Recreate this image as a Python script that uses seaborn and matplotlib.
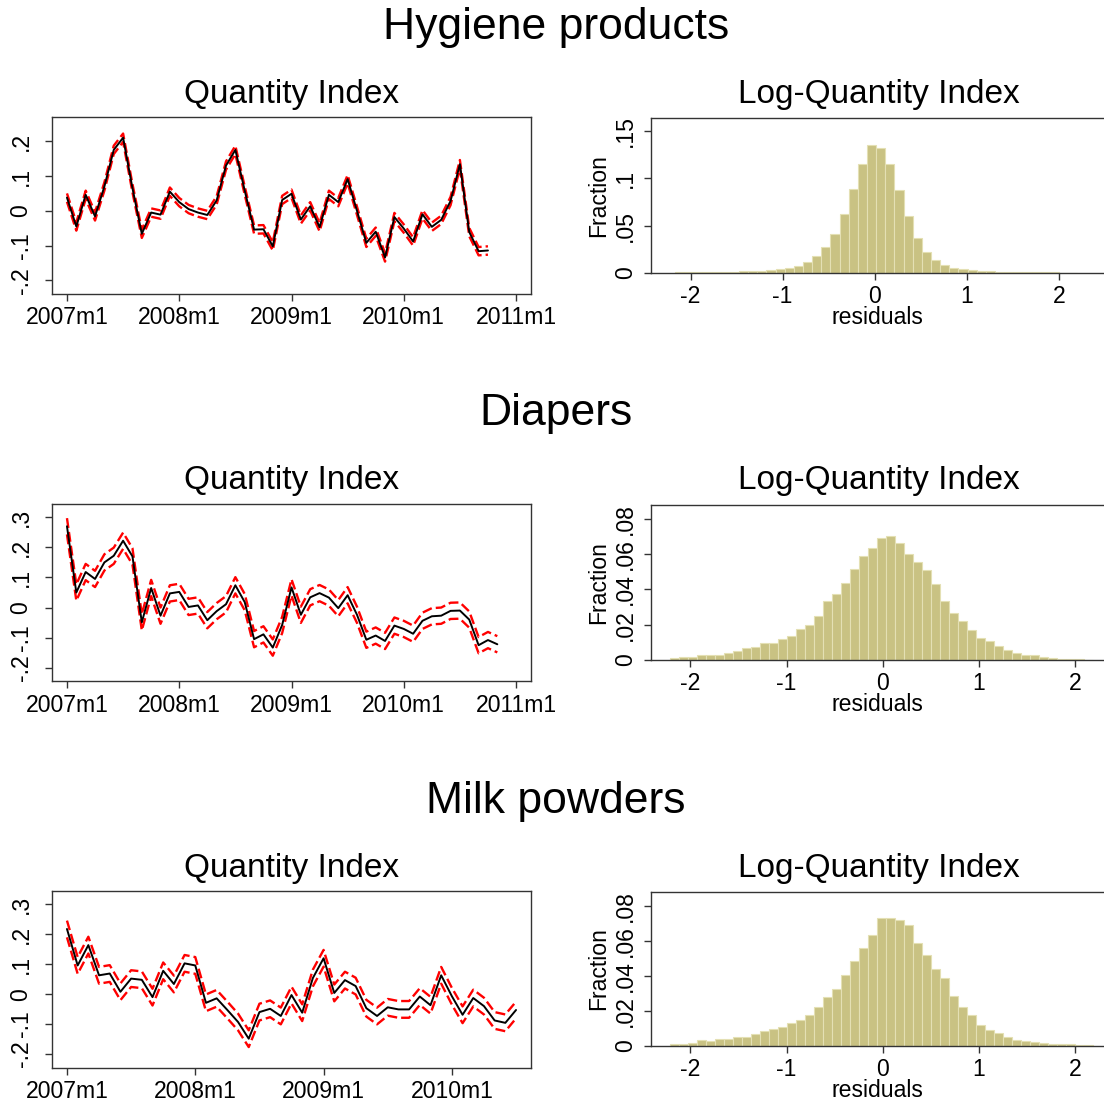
import numpy as np
import pandas as pd
import matplotlib
matplotlib.use("Agg")
import matplotlib.pyplot as plt
import seaborn as sns

# ---------------- data ----------------
PANELS = ["Hygiene products", "Diapers", "Milk powders"]
LINE_TITLE = "Quantity Index"
HIST_TITLE = "Log-Quantity Index"
MONTH_TICK_POS = [0, 12, 24, 36, 48]
MONTH_TICK_LABELS = ["2007m1", "2008m1", "2009m1", "2010m1", "2011m1"]

# quantity index (monthly from 2007m1) and half-width of red band
HYG_Q = [0.038, -0.045, 0.046, -0.016, 0.070, 0.175, 0.210, 0.065, -0.066, -0.005,
         -0.011, 0.055, 0.025, 0.005, -0.005, -0.012, 0.030, 0.130, 0.175, 0.058,
         -0.054, -0.053, -0.102, 0.031, 0.049, -0.025, 0.013, -0.047, 0.046, 0.025,
         0.091, 0.000, -0.092, -0.060, -0.134, -0.018, -0.051, -0.088, -0.010, -0.046,
         -0.026, 0.028, 0.134, -0.061, -0.116, -0.114]
HYG_CI = 0.012

DIA_Q = [0.270, 0.050, 0.118, 0.095, 0.150, 0.172, 0.222, 0.170, -0.049, 0.065,
         -0.027, 0.047, 0.052, 0.002, 0.007, -0.042, -0.012, 0.011, 0.074, 0.018,
         -0.105, -0.089, -0.133, -0.058, 0.067, -0.024, 0.034, 0.048, 0.033, -0.002,
         0.041, -0.024, -0.107, -0.093, -0.111, -0.060, -0.071, -0.087, -0.044, -0.029,
         -0.027, -0.011, -0.010, -0.040, -0.125, -0.108, -0.122]
DIA_CI = 0.027

MILK_Q = [0.218, 0.096, 0.164, 0.063, 0.069, 0.008, 0.052, 0.048, -0.010, 0.078,
          0.034, 0.103, 0.096, -0.029, -0.014, -0.053, -0.093, -0.149, -0.060, -0.049,
          -0.073, -0.003, -0.062, 0.054, 0.120, 0.004, 0.047, 0.027, -0.047, -0.073,
          -0.044, -0.051, -0.051, -0.008, -0.037, 0.063, -0.007, -0.069, -0.013, -0.040,
          -0.088, -0.096, -0.053]
MILK_CI = 0.028

# residual histograms: fraction per bin, first bin edge, bin width
HYG_FRAC = [0.0005, 0.0005, 0.0006, 0.0007, 0.0008, 0.0009, 0.0011, 0.0013, 0.0016, 0.0021,
            0.0029, 0.0042, 0.0054, 0.0072, 0.0110, 0.0176, 0.0275, 0.0408, 0.0623, 0.0887,
            0.1155, 0.1352, 0.1323, 0.1150, 0.0873, 0.0598, 0.0363, 0.0222, 0.0130, 0.0081,
            0.0049, 0.0035, 0.0025, 0.0018, 0.0013, 0.0010, 0.0008, 0.0006, 0.0005, 0.0004,
            0.0003, 0.0003, 0.0002, 0.0002]
HYG_BIN0, HYG_BINW = -2.17, 0.0993

DIA_FRAC = [0.0009, 0.0015, 0.0017, 0.0027, 0.0027, 0.0028, 0.0042, 0.0051, 0.0066, 0.0076,
            0.0098, 0.0098, 0.0116, 0.0138, 0.0178, 0.0200, 0.0248, 0.0331, 0.0371, 0.0436,
            0.0517, 0.0587, 0.0633, 0.0693, 0.0701, 0.0663, 0.0598, 0.0555, 0.0511, 0.0430,
            0.0331, 0.0267, 0.0222, 0.0170, 0.0127, 0.0106, 0.0081, 0.0057, 0.0040, 0.0030,
            0.0028, 0.0017, 0.0009, 0.0008, 0.0006, 0.0004, 0.0002]
DIA_BIN0, DIA_BINW = -2.21, 0.0935

MILK_FRAC = [0.0013, 0.0013, 0.0019, 0.0032, 0.0028, 0.0042, 0.0040, 0.0053, 0.0053, 0.0066,
             0.0087, 0.0097, 0.0110, 0.0133, 0.0148, 0.0178, 0.0222, 0.0281, 0.0326, 0.0404,
             0.0488, 0.0560, 0.0634, 0.0729, 0.0729, 0.0721, 0.0691, 0.0588, 0.0518, 0.0440,
             0.0387, 0.0287, 0.0222, 0.0176, 0.0121, 0.0093, 0.0072, 0.0051, 0.0036, 0.0027,
             0.0021, 0.0016, 0.0013, 0.0011, 0.0009, 0.0007, 0.0005]
MILK_BIN0, MILK_BINW = -2.21, 0.0935

LINE_YTICKS = [[-0.2, -0.1, 0, 0.1, 0.2],
               [-0.2, -0.1, 0, 0.1, 0.2, 0.3],
               [-0.2, -0.1, 0, 0.1, 0.2, 0.3]]
HIST_YTICKS = [[0, 0.05, 0.1, 0.15],
               [0, 0.02, 0.04, 0.06, 0.08],
               [0, 0.02, 0.04, 0.06, 0.08]]
HIST_XTICKS = [-2, -1, 0, 1, 2]

# ---------------- style ----------------
sns.set_theme(style="white", rc={
    "text.color": "black", "axes.labelcolor": "black",
    "xtick.color": "black", "ytick.color": "black",
    "axes.edgecolor": "#333333", "axes.linewidth": 1.0,
})
plt.rcParams["font.family"] = ["Liberation Sans", "DejaVu Sans"]

W, H = 1104, 1103
fig = plt.figure(figsize=(W / 100, H / 100), dpi=100)
fig.patch.set_facecolor("white")

TICK_FS = 16.6
TITLE_FS = 24
SUP_FS = 32
BAR_COLOR = "#c9c283"
BAR_EDGE = "#e4e0b4"


def rect(l, t, r, b):
    return [l / W, 1 - b / H, (r - l) / W, (b - t) / H]


def fmt(v):
    if v == 0:
        return "0"
    s = f"{v:g}"
    return s.replace("0.", ".")


series = [(HYG_Q, HYG_CI), (DIA_Q, DIA_CI), (MILK_Q, MILK_CI)]
hists = [(HYG_FRAC, HYG_BIN0, HYG_BINW), (DIA_FRAC, DIA_BIN0, DIA_BINW),
         (MILK_FRAC, MILK_BIN0, MILK_BINW)]
row_off = [0, 387, 774]
line_xlim = [(-1.6, 49.6), (-1.6, 49.6), (-1.4, 43.4)]
line_ylim = [(-0.239, 0.2695), (-0.244, 0.344), (-0.247, 0.345)]
hist_xlim = [(-2.43, 2.49), (-2.41, 2.30), (-2.41, 2.30)]
hist_ylim = [(0, 0.164), (0, 0.0877), (0, 0.088)]
hist_bottom = [272.7, 660, 1046]

for r in range(3):
    off = row_off[r]
    fig.text(556 / W, 1 - (27 + off) / H, PANELS[r], ha="center", va="center",
             fontsize=SUP_FS, color="black")
    fig.text(291.5 / W, 1 - (94 + off) / H, LINE_TITLE, ha="center", va="center",
             fontsize=TITLE_FS, color="black")
    fig.text(879 / W, 1 - (94 + off) / H, HIST_TITLE, ha="center", va="center",
             fontsize=TITLE_FS, color="black")

    # ---- line panel ----
    q, ci = series[r]
    q = np.asarray(q)
    df = pd.DataFrame({"month": np.arange(len(q)), "q": q,
                       "hi": q + ci, "lo": q - ci})
    ax = fig.add_axes(rect(52, 117 + off, 531, 294 + off))
    for col in ["hi", "lo"]:
        sns.lineplot(data=df, x="month", y=col, ax=ax, color="#ff0000",
                     linewidth=1.7, linestyle=(0, (4.2, 1.7)), estimator=None)
    sns.lineplot(data=df, x="month", y="q", ax=ax, color="black", linewidth=1.4,
                 estimator=None)
    ax.set_xlim(*line_xlim[r])
    ax.set_ylim(*line_ylim[r])
    xt = [p for p in MONTH_TICK_POS if p <= line_xlim[r][1]]
    ax.set_xticks(xt)
    ax.set_xticklabels(MONTH_TICK_LABELS[:len(xt)])
    ax.set_yticks(LINE_YTICKS[r])
    ax.set_yticklabels([fmt(v) for v in LINE_YTICKS[r]], rotation=90, va="center")
    ax.set_xlabel("")
    ax.set_ylabel("")
    ax.tick_params(axis="both", direction="out", length=5, width=1.0,
                   color="#333333", labelsize=TICK_FS, bottom=True, left=True,
                   labelcolor="black")
    ax.tick_params(axis="y", pad=9)
    ax.tick_params(axis="x", pad=4)
    for s in ax.spines.values():
        s.set_visible(True)

    # ---- histogram panel ----
    frac, b0, bw = hists[r]
    n = len(frac)
    centers = b0 + bw * (np.arange(n) + 0.5)
    hd = pd.DataFrame({"resid": centers, "frac": np.asarray(frac, dtype=float)})
    hb = hist_bottom[r]
    ax2 = fig.add_axes(rect(651, 118 + off, W, hb))
    sns.histplot(data=hd, x="resid", weights="frac", bins=n,
                 binrange=(b0, b0 + bw * n), stat="count",
                 ax=ax2, color=BAR_COLOR, edgecolor=BAR_EDGE, linewidth=0.8,
                 alpha=1.0)
    ax2.set_xlim(*hist_xlim[r])
    ax2.set_ylim(*hist_ylim[r])
    ax2.set_xticks(HIST_XTICKS)
    ax2.set_xticklabels([str(v) for v in HIST_XTICKS])
    ax2.set_yticks(HIST_YTICKS[r])
    ax2.set_yticklabels([fmt(v) for v in HIST_YTICKS[r]], rotation=90, va="center")
    ax2.set_xlabel("residuals", fontsize=TICK_FS, labelpad=-1.5, color="black")
    ax2.set_ylabel("Fraction", fontsize=TICK_FS, labelpad=3, color="black")
    ax2.tick_params(axis="both", direction="out", length=5, width=1.0,
                    color="#333333", labelsize=TICK_FS, bottom=True, left=True,
                    labelcolor="black")
    ax2.tick_params(axis="y", pad=5)
    ax2.tick_params(axis="x", pad=4)
    ax2.spines["right"].set_visible(False)
    ax2.spines["top"].set_visible(True)
    ax2.spines["left"].set_visible(True)
    ax2.spines["bottom"].set_visible(True)

fig.savefig("out.png", dpi=100, facecolor="white")
